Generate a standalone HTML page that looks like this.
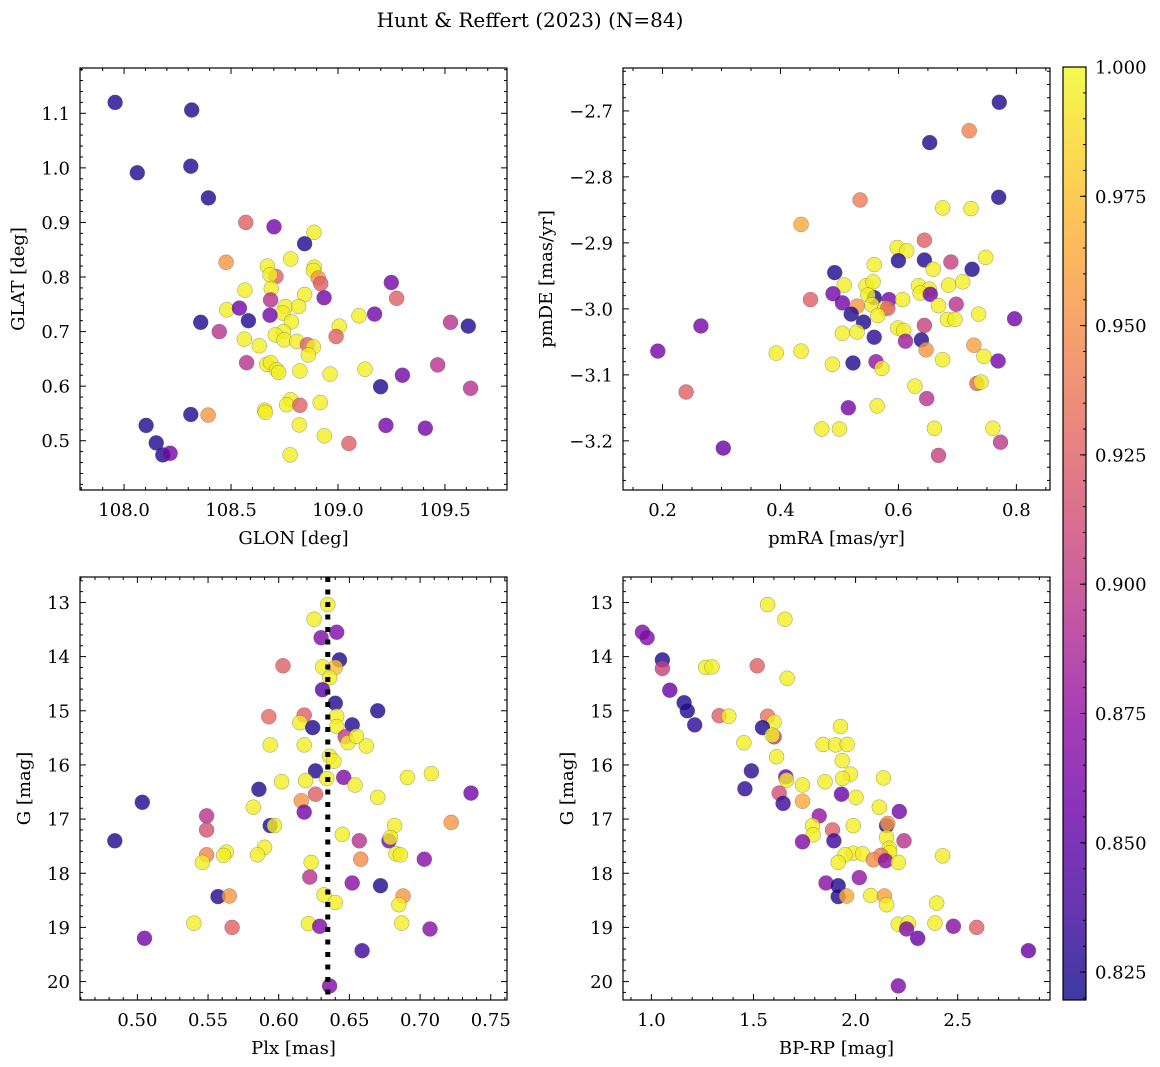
<!DOCTYPE html>
<html><head><meta charset="utf-8"><style>
body{margin:0;background:#fff;}
svg{display:block;font-family:"DejaVu Serif","Liberation Serif",serif;}
</style></head><body>
<svg id="fig" width="1160" height="1067" viewBox="0 0 1160 1067">
<text x="530" y="27" text-anchor="middle" font-size="20">Hunt &amp; Reffert (2023) (N=84)</text>
</svg>
<script>
// ---- Data (B=.825,P=.86,M=.895,S=.925,O=.955,Y=.995 approx probabilities) ----
const glon=[107.958,108.316,108.062,108.312,108.394,108.569,108.701,108.888,108.844,108.477,108.779,108.670,108.889,108.885,108.710,108.682,108.908,108.919,109.249,108.565,108.688,108.844,108.935,109.274,108.685,108.480,108.539,108.753,108.816,108.742,109.098,109.171,108.682,109.526,108.358,108.581,108.782,109.609,109.006,108.445,108.745,108.707,108.748,108.562,108.991,108.807,108.857,108.885,108.632,108.861,108.573,108.667,108.685,108.713,108.723,108.822,108.963,109.126,109.301,109.199,109.466,109.620,108.917,108.779,108.760,108.822,108.657,108.660,108.312,108.393,108.819,109.224,109.408,108.103,108.936,109.051,108.150,108.181,108.215,108.776];
const glat=[1.120,1.106,0.991,1.003,0.945,0.900,0.892,0.882,0.861,0.827,0.833,0.820,0.818,0.812,0.801,0.804,0.798,0.788,0.790,0.776,0.779,0.768,0.762,0.761,0.758,0.740,0.743,0.746,0.746,0.734,0.729,0.732,0.730,0.717,0.717,0.720,0.718,0.710,0.710,0.700,0.700,0.694,0.685,0.686,0.691,0.682,0.676,0.672,0.674,0.657,0.643,0.640,0.643,0.630,0.625,0.628,0.622,0.631,0.620,0.599,0.639,0.596,0.570,0.575,0.566,0.565,0.556,0.552,0.548,0.547,0.529,0.528,0.523,0.528,0.509,0.495,0.496,0.474,0.477,0.474];
const prob1=[.825,.825,.825,.825,.825,.925,.86,.995,.825,.955,.995,.995,.995,.995,.925,.995,.955,.925,.86,.995,.995,.995,.86,.925,.895,.995,.86,.995,.995,.995,.995,.86,.86,.895,.825,.825,.995,.825,.995,.895,.995,.995,.995,.995,.925,.995,.925,.995,.995,.995,.895,.995,.995,.995,.995,.995,.995,.995,.86,.825,.895,.895,.995,.995,.995,.925,.995,.995,.825,.955,.995,.86,.86,.825,.995,.925,.825,.825,.86,.995];

const pmra=[0.771,0.720,0.653,0.770,0.535,0.675,0.723,0.435,0.644,0.598,0.614,0.748,0.600,0.644,0.689,0.559,0.659,0.725,0.492,0.508,0.545,0.557,0.634,0.652,0.685,0.709,0.489,0.637,0.654,0.559,0.584,0.451,0.505,0.607,0.548,0.698,0.530,0.555,0.577,0.582,0.668,0.520,0.565,0.736,0.797,0.541,0.683,0.696,0.644,0.265,0.599,0.609,0.505,0.530,0.559,0.612,0.639,0.728,0.647,0.192,0.393,0.435,0.745,0.675,0.769,0.562,0.523,0.488,0.572,0.628,0.733,0.740,0.240,0.648,0.515,0.564,0.470,0.500,0.661,0.760,0.303,0.773,0.668];
const pmde=[-2.687,-2.730,-2.748,-2.831,-2.835,-2.847,-2.848,-2.872,-2.896,-2.907,-2.912,-2.922,-2.927,-2.926,-2.929,-2.933,-2.940,-2.940,-2.945,-2.964,-2.965,-2.959,-2.965,-2.970,-2.964,-2.959,-2.977,-2.976,-2.978,-2.983,-2.986,-2.986,-2.991,-2.986,-2.979,-2.993,-2.996,-2.994,-2.999,-2.999,-2.995,-3.008,-3.010,-3.008,-3.015,-3.020,-3.016,-3.016,-3.025,-3.026,-3.029,-3.033,-3.037,-3.035,-3.043,-3.049,-3.047,-3.055,-3.062,-3.064,-3.067,-3.064,-3.072,-3.077,-3.079,-3.080,-3.082,-3.084,-3.090,-3.117,-3.113,-3.111,-3.126,-3.136,-3.150,-3.147,-3.182,-3.182,-3.181,-3.181,-3.211,-3.202,-3.222];
const prob2=[.825,.945,.825,.825,.94,.995,.995,.965,.925,.995,.995,.995,.825,.825,.905,.995,.995,.825,.825,.995,.995,.995,.995,.995,.995,.995,.86,.995,.86,.825,.86,.925,.86,.995,.995,.895,.955,.995,.995,.925,.995,.825,.995,.995,.86,.825,.995,.995,.905,.86,.995,.995,.995,.995,.83,.88,.825,.96,.955,.86,.995,.995,.995,.995,.86,.875,.825,.995,.995,.995,.93,.995,.925,.895,.86,.995,.995,.995,.995,.995,.855,.9,.905];

const plx=[0.6347,0.625,0.641,0.630,0.643,0.603,0.631,0.640,0.636,0.631,0.640,0.670,0.593,0.618,0.641,0.615,0.624,0.641,0.652,0.647,0.649,0.655,0.594,0.618,0.662,0.636,0.639,0.626,0.634,0.619,0.602,0.646,0.654,0.691,0.708,0.736,0.586,0.626,0.670,0.5035,0.616,0.582,0.618,0.549,0.594,0.597,0.682,0.722,0.549,0.645,0.484,0.657,0.678,0.679,0.590,0.585,0.563,0.561,0.549,0.546,0.683,0.686,0.658,0.703,0.623,0.622,0.652,0.672,0.557,0.565,0.632,0.640,0.688,0.685,0.540,0.621,0.629,0.567,0.687,0.707,0.505,0.659,0.636];
const gmag3=[13.04,13.31,13.55,13.65,14.06,14.17,14.19,14.20,14.39,14.61,14.86,15.00,15.11,15.08,15.10,15.22,15.31,15.29,15.26,15.48,15.59,15.47,15.63,15.63,15.65,15.84,15.93,16.11,16.25,16.29,16.31,16.23,16.37,16.23,16.16,16.52,16.45,16.54,16.60,16.69,16.66,16.78,16.87,16.94,17.12,17.12,17.12,17.06,17.20,17.28,17.40,17.40,17.40,17.34,17.52,17.66,17.61,17.67,17.66,17.80,17.64,17.66,17.74,17.74,17.80,18.07,18.18,18.23,18.43,18.42,18.40,18.54,18.42,18.58,18.92,18.93,18.98,19.00,18.92,19.03,19.20,19.43,20.08];
const prob3=[.995,.995,.865,.865,.825,.925,.995,.975,.995,.845,.825,.825,.93,.925,.995,.995,.825,.995,.825,.9,.995,.995,.995,.995,.995,.995,.995,.825,.995,.995,.995,.865,.995,.995,.995,.86,.825,.925,.995,.825,.955,.995,.86,.895,.825,.995,.995,.955,.915,.995,.825,.895,.86,.995,.995,.995,.995,.995,.945,.995,.995,.995,.95,.87,.995,.895,.87,.825,.825,.955,.995,.995,.955,.995,.995,.995,.865,.925,.995,.87,.86,.835,.865];

const bprp=[1.569,1.654,0.956,0.979,1.054,1.054,1.266,1.297,1.518,1.665,1.090,1.160,1.176,1.212,1.332,1.379,1.569,1.601,1.544,1.601,1.592,1.926,1.453,1.841,1.902,1.959,1.613,1.935,1.490,1.658,1.662,1.975,1.936,1.850,1.740,2.136,1.458,1.931,1.626,2.002,1.645,1.740,2.116,2.214,1.822,1.789,1.989,1.887,2.152,2.157,1.792,2.152,1.740,1.894,2.237,2.165,1.989,1.948,2.034,2.426,2.167,2.124,2.087,2.147,2.209,1.915,2.018,1.855,1.915,1.915,1.956,2.074,2.141,2.152,2.397,2.209,2.258,2.250,2.389,2.479,2.593,2.304,2.846,2.209];
const gmag4=[13.04,13.31,13.55,13.65,14.06,14.22,14.20,14.19,14.17,14.40,14.62,14.85,15.00,15.26,15.09,15.10,15.10,15.21,15.31,15.48,15.45,15.29,15.59,15.62,15.63,15.62,15.85,15.92,16.11,16.22,16.28,16.17,16.25,16.31,16.37,16.24,16.44,16.54,16.52,16.60,16.71,16.67,16.78,16.86,16.94,17.12,17.12,17.20,17.12,17.08,17.29,17.34,17.42,17.40,17.40,17.54,17.63,17.66,17.64,17.68,17.62,17.67,17.75,17.77,17.80,17.80,18.08,18.18,18.23,18.43,18.42,18.41,18.42,18.58,18.55,18.94,18.92,19.03,18.92,18.98,19.00,19.20,19.43,20.08];
const prob4=[.995,.995,.865,.865,.825,.905,.995,.995,.925,.995,.855,.825,.825,.83,.925,.995,.935,.995,.825,.9,.995,.995,.995,.995,.995,.995,.995,.995,.83,.855,.995,.995,.995,.995,.995,.995,.83,.855,.915,.995,.835,.965,.995,.86,.875,.995,.995,.925,.825,.955,.995,.995,.865,.835,.895,.995,.995,.995,.995,.995,.995,.94,.95,.87,.995,.995,.875,.87,.825,.825,.965,.995,.96,.995,.995,.995,.995,.865,.995,.87,.925,.855,.855,.865];

const plxRef=[0.6347];
const cbTicks=[0.825,0.850,0.875,0.900,0.925,0.950,0.975,1.000];

// ---- helpers ----
const NS="http://www.w3.org/2000/svg";
const svg=document.getElementById('fig');
function mk(tag,attrs,parent){const e=document.createElementNS(NS,tag);for(const k in attrs)e.setAttribute(k,attrs[k]);(parent||svg).appendChild(e);return e;}
const plasma=[[13,8,135],[65,4,157],[106,0,168],[143,13,164],[177,42,144],[204,71,120],[225,100,98],[242,132,75],[252,166,54],[252,206,37],[240,249,33]];
const CMIN=0.8196,CMAX=1.0;
function cmap(v){let t=(v-CMIN)/(CMAX-CMIN);t=Math.max(0,Math.min(1,t))*10;const i=Math.min(9,Math.floor(t)),f=t-i;const a=plasma[i],b=plasma[i+1];return 'rgb('+a.map((c,k)=>Math.round(c+(b[k]-c)*f)).join(',')+')';}
function fmt(v,d){return (v<0?'\u2212':'')+Math.abs(v).toFixed(d);}
const FS=18;

function panel(o){
  const g=mk('g',{});
  
  
  const sx=v=>o.x0+(v-o.xl[0])/(o.xl[1]-o.xl[0])*(o.x1-o.x0);
  const sy=v=>o.y0+(v-o.yl[0])/(o.yl[1]-o.yl[0])*(o.y1-o.y0);
  const pts=mk('g',{},g);
  
  
  for(let i=0;i<o.xs.length;i++){
    const c=mk('circle',{cx:sx(o.xs[i]).toFixed(1),cy:sy(o.ys[i]).toFixed(1),r:7.5,fill:cmap(o.cs[i]),stroke:'#555','stroke-width':0.5,'fill-opacity':0.8,'stroke-opacity':0.6},pts);
    
    
  }
  if(o.vline){for(const v of o.vline){const l=mk('line',{x1:sx(v),x2:sx(v),y1:o.y0,y2:o.y1,stroke:'#000','stroke-width':5,'stroke-dasharray':'5 7.5'},g);
    
    }}
  const ax=mk('g',{stroke:'#000','stroke-width':1},g);
  const xlab=mk('g',{'font-size':FS,'text-anchor':'middle'},g);
  
  
  for(let v=Math.ceil(o.xl[0]/o.xmin-1e-6)*o.xmin;v<=o.xl[1]+1e-9;v+=o.xmin){
    const X=sx(v);const maj=Math.abs(v/o.xmaj-Math.round(v/o.xmaj))<1e-6;const L=maj?6:3;
    mk('line',{x1:X,x2:X,y1:o.y1,y2:o.y1-L},ax);mk('line',{x1:X,x2:X,y1:o.y0,y2:o.y0+L},ax);
    if(maj){const t=mk('text',{x:X,y:o.y1+26},xlab);t.textContent=fmt(v,o.xd);}
  }
  const ylab=mk('g',{'font-size':FS,'text-anchor':'end'},g);
  
  
  const ylo=Math.min(o.yl[0],o.yl[1]),yhi=Math.max(o.yl[0],o.yl[1]);
  for(let v=Math.ceil(ylo/o.ymin-1e-6)*o.ymin;v<=yhi+1e-9;v+=o.ymin){
    const Y=sy(v);const maj=Math.abs(v/o.ymaj-Math.round(v/o.ymaj))<1e-6;const L=maj?6:3;
    mk('line',{x1:o.x0,x2:o.x0+L,y1:Y,y2:Y},ax);mk('line',{x1:o.x1,x2:o.x1-L,y1:Y,y2:Y},ax);
    if(maj){const t=mk('text',{x:o.x0-10,y:Y+6.5},ylab);t.textContent=fmt(v,o.yd);}
  }
  const fr=mk('rect',{x:o.x0,y:o.y0,width:o.x1-o.x0,height:o.y1-o.y0,fill:'none',stroke:'#000','stroke-width':1.2},g);
  
  
  const xt=mk('text',{x:(o.x0+o.x1)/2,y:o.y1+54,'font-size':FS,'text-anchor':'middle'},g);xt.textContent=o.xlabel;
  
  
  const yc=(o.y0+o.y1)/2;
  const yt=mk('text',{x:o.ytx,y:yc,'font-size':FS,'text-anchor':'middle',transform:'rotate(-90 '+o.ytx+' '+yc+')'},g);yt.textContent=o.ylabel;
  
  
}

panel({name:'glon-glat-panel',x0:80,x1:507,y0:68,y1:490,xl:[107.794,109.79],yl:[1.183,0.4097],xs:glon,ys:glat,cs:prob1,xmaj:0.5,xmin:0.1,ymaj:0.1,ymin:0.02,xd:1,yd:1,xlabel:'GLON [deg]',ylabel:'GLAT [deg]',ytx:24});
panel({name:'proper-motion-panel',x0:623,x1:1050,y0:68,y1:490,xl:[0.133,0.857],yl:[-2.635,-3.2745],xs:pmra,ys:pmde,cs:prob2,xmaj:0.2,xmin:0.05,ymaj:0.1,ymin:0.02,xd:1,yd:1,xlabel:'pmRA [mas/yr]',ylabel:'pmDE [mas/yr]',ytx:552});
panel({name:'parallax-magnitude-panel',x0:80,x1:507,y0:577,y1:1000,xl:[0.4594,0.7615],yl:[12.53,20.34],xs:plx,ys:gmag3,cs:prob3,xmaj:0.05,xmin:0.01,ymaj:1,ymin:0.2,xd:2,yd:0,xlabel:'Plx [mas]',ylabel:'G [mag]',ytx:30,vline:plxRef});
panel({name:'color-magnitude-panel',x0:623,x1:1050,y0:577,y1:1000,xl:[0.861,2.952],yl:[12.53,20.34],xs:bprp,ys:gmag4,cs:prob4,xmaj:0.5,xmin:0.1,ymaj:1,ymin:0.2,xd:1,yd:0,xlabel:'BP-RP [mag]',ylabel:'G [mag]',ytx:573});

// colorbar
const cb=mk('g',{});


const cbx0=1063,cbx1=1086,cby0=67,cby1=1000;
const defs=mk('defs',{},cb);
const lg=mk('linearGradient',{id:'cbg',x1:0,y1:1,x2:0,y2:0},defs);
for(let k=0;k<=20;k++){const v=CMIN+(CMAX-CMIN)*k/20;mk('stop',{offset:k/20,'stop-color':cmap(v)},lg);}
mk('rect',{x:cbx0,y:cby0,width:cbx1-cbx0,height:cby1-cby0,fill:'url(#cbg)','fill-opacity':0.8},cb);
mk('rect',{x:cbx0,y:cby0,width:cbx1-cbx0,height:cby1-cby0,fill:'none',stroke:'#000','stroke-width':1.2},cb);
const cy=v=>cby1-(v-CMIN)/(CMAX-CMIN)*(cby1-cby0);
for(let v=0.82;v<=1.0001;v+=0.005){const Y=cy(v);if(Y>cby1||Y<cby0)continue;mk('line',{x1:cbx1,x2:cbx1-3,y1:Y,y2:Y,stroke:'#000'},cb);}
for(const v of cbTicks){const Y=cy(v);mk('line',{x1:cbx1,x2:cbx1-6,y1:Y,y2:Y,stroke:'#000'},cb);
  const t=mk('text',{x:cbx1+9,y:Y+6.5,'font-size':FS},cb);t.textContent=v.toFixed(3);
  
  }
</script>
</body></html>
